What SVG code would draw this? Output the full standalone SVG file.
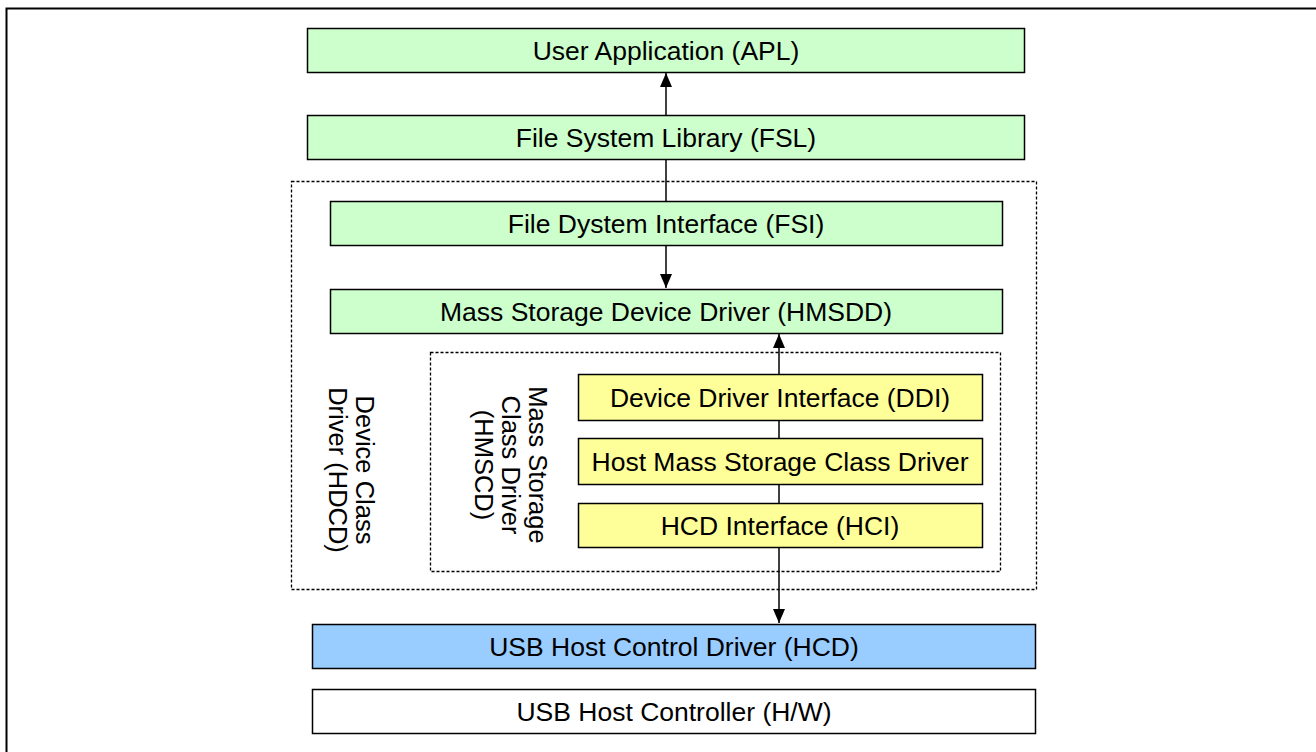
<svg xmlns="http://www.w3.org/2000/svg" width="1316" height="752" viewBox="0 0 1316 752">
<style>
.box{stroke:#000;stroke-width:1.5}
.g{fill:#ccffcc}
.y{fill:#ffff99}
.b{fill:#99ccff}
.w{fill:#fff}
.t{font-family:"Liberation Sans",Arial,sans-serif;font-size:26.5px;fill:#000;text-anchor:middle;dominant-baseline:central}
.r{font-size:25.5px}
.dash{fill:none;stroke:#000;stroke-width:1.3;stroke-dasharray:3 2}
.ln{stroke:#000;stroke-width:1.5;fill:none}
</style>
<defs>
<marker id="ah" viewBox="0 0 14 12" refX="14" refY="6" markerWidth="14" markerHeight="12" markerUnits="userSpaceOnUse" orient="auto">
<path d="M0,0 L14,6 L0,12 z" fill="#000"/>
</marker>
</defs>
<rect width="1316" height="752" fill="#fff"/>
<path d="M6.5,752 L6.5,8.5 L1316,8.5" fill="none" stroke="#000" stroke-width="2"/>
<g id="groups">
<rect id="hdcd" class="dash" x="291.5" y="181.5" width="745" height="408"/>
<rect id="hmscd" class="dash" x="430.5" y="352.5" width="570" height="219"/>
<text class="t r" transform="translate(365,470) rotate(90)">Device Class</text>
<text class="t r" transform="translate(338,470) rotate(90)">Driver (HDCD)</text>
<text class="t r" transform="translate(538,465) rotate(90)">Mass Storage</text>
<text class="t r" transform="translate(511,465) rotate(90)">Class Driver</text>
<text class="t r" transform="translate(484,465) rotate(90)">(HMSCD)</text>
</g>
<g id="connectors">
<line class="ln" x1="666" y1="115" x2="666" y2="73" marker-end="url(#ah)"/>
<line class="ln" x1="666" y1="159" x2="666" y2="201"/>
<line class="ln" x1="666" y1="245" x2="666" y2="288" marker-end="url(#ah)"/>
<line class="ln" x1="779" y1="374" x2="779" y2="334" marker-end="url(#ah)"/>
<line class="ln" x1="779" y1="420" x2="779" y2="438"/>
<line class="ln" x1="779" y1="484" x2="779" y2="503"/>
<line class="ln" x1="779" y1="547" x2="779" y2="623" marker-end="url(#ah)"/>
</g>
<g id="apl"><rect class="box g" x="307.5" y="28.5" width="717" height="44"/><text class="t" x="666" y="50.5">User Application (APL)</text></g>
<g id="fsl"><rect class="box g" x="307.5" y="115.5" width="717" height="44"/><text class="t" x="666" y="137.5">File System Library (FSL)</text></g>
<g id="fsi"><rect class="box g" x="330.5" y="201.5" width="672" height="44"/><text class="t" x="666" y="223.5">File Dystem Interface (FSI)</text></g>
<g id="hmsdd"><rect class="box g" x="330.5" y="289.5" width="672" height="44"/><text class="t" x="666" y="311.5">Mass Storage Device Driver (HMSDD)</text></g>
<g id="ddi"><rect class="box y" x="578.5" y="374.5" width="404" height="46"/><text class="t" x="780" y="397.5">Device Driver Interface (DDI)</text></g>
<g id="hmsc"><rect class="box y" x="578.5" y="438.5" width="404" height="46"/><text class="t" x="780" y="461.5">Host Mass Storage Class Driver</text></g>
<g id="hci"><rect class="box y" x="578.5" y="503.5" width="404" height="44"/><text class="t" x="780" y="525.5">HCD Interface (HCI)</text></g>
<g id="hcd"><rect class="box b" x="312.5" y="624.5" width="723" height="44"/><text class="t" x="674" y="646.5">USB Host Control Driver (HCD)</text></g>
<g id="hw"><rect class="box w" x="312.5" y="689.5" width="723" height="44"/><text class="t" x="674" y="711.5">USB Host Controller (H/W)</text></g>
</svg>
